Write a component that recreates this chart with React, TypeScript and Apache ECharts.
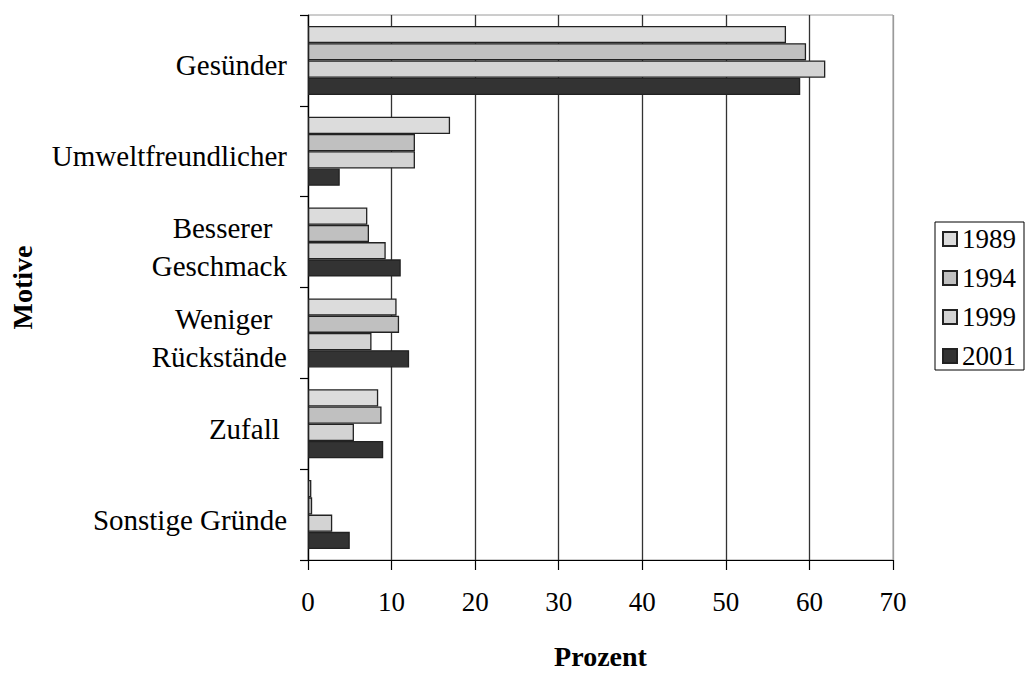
import React, { useEffect, useRef } from "react";
import * as echarts from "echarts";

const categories = [
  "Gesünder",
  "Umweltfreundlicher",
  "Besserer\u00A0\u00A0\nGeschmack",
  "Weniger\u00A0\u00A0\nRückstände",
  "Zufall\u00A0",
  "Sonstige Gründe",
];
const seriesNames = ["1989", "1994", "1999", "2001"];
const values1989 = [57.2, 17.0, 7.1, 10.6, 8.4, 0.4];
const values1994 = [59.6, 12.8, 7.3, 10.9, 8.8, 0.5];
const values1999 = [61.9, 12.8, 9.3, 7.6, 5.5, 2.9];
const values2001 = [58.9, 3.8, 11.1, 12.1, 9.0, 5.0];
const xTicks = [0, 10, 20, 30, 40, 50, 60, 70];

const colors = ["#dcdcdc", "#c0c0c0", "#d3d3d3", "#333333"];
const FONT = "'Liberation Serif', 'Times New Roman', serif";

export default function App() {
  const ref = useRef<HTMLDivElement>(null);
  useEffect(() => {
    if (!ref.current) return;
    const chart = echarts.init(ref.current, undefined, { renderer: "svg" });
    const all = [values1989, values1994, values1999, values2001];
    chart.setOption({
      animation: false,
      backgroundColor: "#ffffff",
      textStyle: { fontFamily: FONT, color: "#000" },
      grid: {
        left: 308,
        right: 136,
        top: 15,
        bottom: 101,
        show: true,
        borderColor: "#9a9a9a",
        borderWidth: 1,
        backgroundColor: "transparent",
      },
      legend: {
        orient: "vertical",
        left: 935,
        top: 222,
        width: 90,
        padding: [3, 8, 0, 7],
        itemGap: 11,
        itemWidth: 14,
        itemHeight: 14,
        itemTextGap: 5,
        icon: "rect",
        borderColor: "#000",
        borderWidth: 1,
        data: seriesNames,
        textStyle: { fontFamily: FONT, fontSize: 27, color: "#000", lineHeight: 28 },
      },
      xAxis: {
        type: "value",
        min: xTicks[0],
        max: xTicks[xTicks.length - 1],
        interval: 10,
        name: "Prozent",
        nameLocation: "middle",
        nameGap: 82,
        nameTextStyle: { fontFamily: FONT, fontSize: 28, fontWeight: "bold", color: "#000" },
        axisLine: { show: true, lineStyle: { color: "#000", width: 1.2 } },
        axisTick: { show: true, length: 10, lineStyle: { color: "#000", width: 1.2 } },
        axisLabel: { margin: 28, fontFamily: FONT, fontSize: 27, color: "#000" },
        splitLine: {
          show: true,
          lineStyle: {
            color: ["#333", "#333", "#333", "#333", "#333", "#333", "#333", "#9a9a9a"],
            width: 1.3,
          },
        },
      },
      yAxis: {
        type: "category",
        inverse: true,
        data: categories,
        name: "Motive",
        nameLocation: "middle",
        nameGap: 272,
        nameRotate: 90,
        nameTextStyle: { fontFamily: FONT, fontSize: 28, fontWeight: "bold", color: "#000" },
        axisLine: { show: true, lineStyle: { color: "#000", width: 1.2 } },
        axisTick: { show: true, length: 8, lineStyle: { color: "#000", width: 1.2 } },
        axisLabel: {
          margin: 21,
          fontFamily: FONT,
          fontSize: 29,
          color: "#000",
          lineHeight: 38,
          padding: [10, 0, 0, 0],
          formatter: (v: string) =>
            v
              .split("\n")
              .map((s) => `{a|${s}}`)
              .join("\n"),
          rich: {
            a: { fontFamily: FONT, fontSize: 29, lineHeight: 38, color: "#000" },
          },
        },
        splitLine: { show: false },
      },
      series: seriesNames.map((name, i) => ({
        name,
        type: "bar",
        data: all[i],
        barGap: "0%",
        barCategoryGap: "24%",
        itemStyle: { color: colors[i], borderColor: "#222", borderWidth: 1.3 },
      })),
    });
    return () => chart.dispose();
  }, []);
  return <div ref={ref} style={{ width: 1029, height: 675, position: "absolute", left: 0, top: 0 }} />;
}
